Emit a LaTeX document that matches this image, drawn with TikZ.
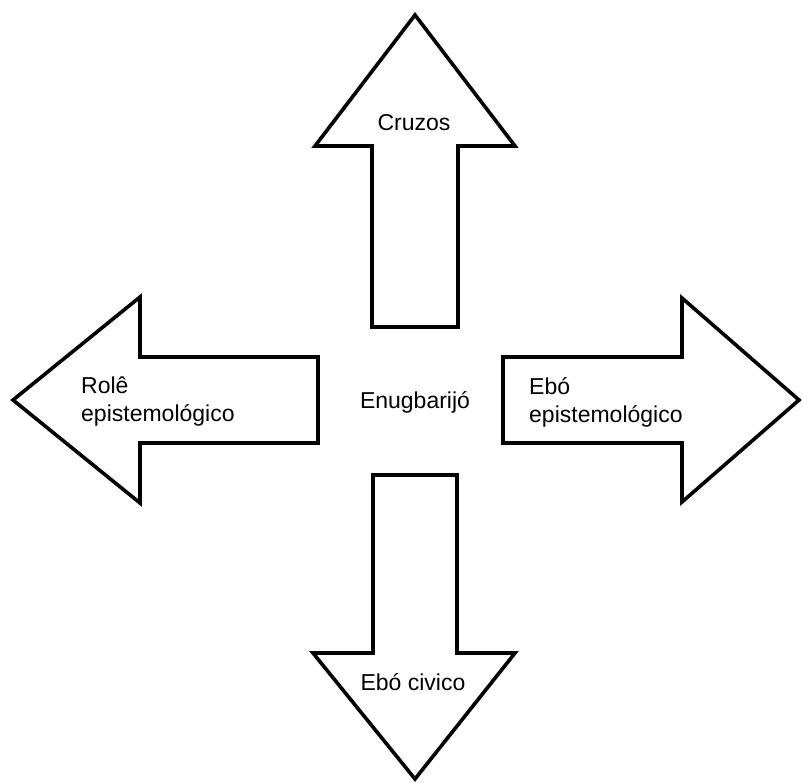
\documentclass[tikz,border=0pt]{standalone}
\usepackage{fontspec}
\setmainfont{Liberation Sans}
\begin{document}
\begin{tikzpicture}[x=1pt,y=-1pt,
  bigarrow/.style={draw=black,fill=white,line width=3.6pt,line join=miter},
  lbl/.style={font=\fontsize{23}{28}\selectfont,inner sep=0pt},
  lbl2/.style={lbl,align=left,anchor=west}]
\useasboundingbox (0,0) rectangle (803,782);
% up arrow
\draw[bigarrow] (372,327) -- (372,146) -- (315,146) -- (415,15) -- (515,146) -- (458,146) -- (458,327) -- cycle;
% left arrow
\draw[bigarrow] (318,357) -- (140,357) -- (140,297) -- (13,400) -- (140,503) -- (140,443) -- (318,443) -- cycle;
% right arrow
\draw[bigarrow] (503,357) -- (682,357) -- (682,298) -- (799,400) -- (682,502) -- (682,443) -- (503,443) -- cycle;
% down arrow
\draw[bigarrow] (373,475) -- (373,653) -- (313,653) -- (415,779) -- (515,653) -- (457,653) -- (457,475) -- cycle;
% labels
\node[lbl] (up) at (414,123) {Cruzos};
\node[lbl] (mid) at (415,402) {Enugbarijó};
\node[lbl2] (left) at (81,402) {Rolê\\epistemológico};
\node[lbl2] (right) at (529,402) {Ebó\\epistemológico};
\node[lbl] (down) at (413,682) {Ebó civico};
\end{tikzpicture}
\end{document}
